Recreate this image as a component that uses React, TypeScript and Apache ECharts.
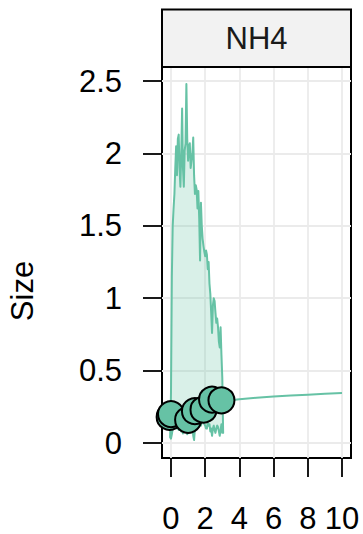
import React, { useEffect, useRef } from "react";
import * as echarts from "echarts";

const facetLabel = "NH4";
const yTitle = "Size";
const xTicks = [0, 2, 4, 6, 8, 10];
const yTicks = [0, 0.5, 1, 1.5, 2, 2.5];

const bandX = [
  -0.05, 0.0, 0.05, 0.1, 0.15, 0.2, 0.25, 0.3, 0.35, 0.4, 0.45, 0.5, 0.55, 0.6, 0.65, 0.7,
  0.75, 0.8, 0.85, 0.9, 0.95, 1.0, 1.05, 1.1, 1.15, 1.2, 1.25, 1.3, 1.35, 1.4, 1.45, 1.5,
  1.55, 1.6, 1.65, 1.7, 1.75, 1.8, 1.85, 1.9, 1.95, 2.0, 2.05, 2.1, 2.15, 2.2, 2.25, 2.3,
  2.35, 2.4, 2.45, 2.5, 2.55, 2.6, 2.65, 2.7, 2.75, 2.8, 2.85, 2.9, 2.95, 3.0, 3.05,
];
const bandUpper = [
  0.04, 0.35, 1.15, 1.5, 1.62, 1.72, 1.9, 2.05, 1.85, 2.1, 2.13, 1.9, 1.77, 2.0, 2.31, 1.9,
  1.77, 2.02, 2.07, 2.48, 2.1, 1.95, 2.05, 2.07, 1.9, 1.95, 2.0, 2.11, 1.85, 1.72, 1.78, 1.75,
  1.62, 1.74, 1.55, 1.26, 1.66, 1.5, 1.41, 1.36, 1.32, 1.29, 1.33, 1.3, 1.2, 1.25, 1.1, 1.03,
  0.9, 0.76, 0.95, 1.0, 0.98, 0.9, 0.83, 0.86, 0.8, 0.7, 0.66, 0.8, 0.61, 0.45, 0.07,
];
const bandLower = [
  0.04, 0.03, 0.06, 0.1, 0.1, 0.12, 0.11, 0.12, 0.1, 0.11, 0.09, 0.09, 0.1, 0.08, 0.1, 0.065,
  0.09, 0.11, 0.08, 0.1, 0.06, 0.08, 0.1, 0.07, 0.1, 0.09, 0.12, 0.05, 0.02, 0.1, 0.11, 0.11,
  0.13, 0.12, 0.15, 0.145, 0.12, 0.14, 0.15, 0.155, 0.13, 0.12, 0.1, 0.1, 0.14, 0.12, 0.13, 0.08,
  0.1, 0.05, 0.1, 0.12, 0.09, 0.07, 0.1, 0.12, 0.11, 0.08, 0.05, 0.09, 0.13, 0.07, 0.07,
];

const trendX = [2.95, 3.5, 4, 5, 6, 7, 8, 9, 10];
const trendY = [0.29, 0.296, 0.302, 0.312, 0.321, 0.328, 0.334, 0.34, 0.345];

const pointX = [-0.08, 0.0, 1.0, 1.4, 1.9, 2.4, 2.95];
const pointY = [0.18, 0.2, 0.16, 0.22, 0.23, 0.3, 0.295];

const GREEN = "#66C2A5";
const FONT = "'Liberation Sans', Arial, sans-serif";

export default function App() {
  const ref = useRef<HTMLDivElement>(null);
  useEffect(() => {
    if (!ref.current) return;
    const chart = echarts.init(ref.current, undefined, { renderer: "svg" });
    const option: any = {
      animation: false,
      backgroundColor: "#fff",
      grid: {
        left: 162,
        right: 12,
        top: 67,
        bottom: 76,
        show: true,
        borderColor: "#000",
        borderWidth: 2,
        backgroundColor: "#fff",
        containLabel: false,
        outerBoundsMode: "none",
      },
      xAxis: {
        type: "value",
        position: "bottom",
        min: -0.526,
        max: 10.526,
        axisLine: { show: false, onZero: false },
        axisTick: {
          show: true,
          inside: false,
          customValues: xTicks,
          length: 19,
          lineStyle: { color: "#000", width: 1.8 },
        },
        axisLabel: {
          customValues: xTicks,
          margin: 60,
          fontSize: 31,
          lineHeight: 27,
          verticalAlign: "middle",
          color: "#000",
          fontFamily: FONT,
        },
        splitLine: { show: true, lineStyle: { color: "#EBEBEB", width: 1.8 } },
      },
      yAxis: {
        type: "value",
        position: "left",
        min: -0.1036,
        max: 2.597,
        axisLine: { show: false, onZero: false },
        axisTick: {
          show: true,
          inside: false,
          customValues: yTicks,
          length: 19,
          lineStyle: { color: "#000", width: 1.8 },
        },
        axisLabel: {
          customValues: yTicks,
          margin: 40,
          fontSize: 31,
          color: "#000",
          fontFamily: FONT,
        },
        splitLine: { show: true, lineStyle: { color: "#EBEBEB", width: 1.8 } },
      },
      graphic: [
        {
          type: "rect",
          shape: { x: 162, y: 9.5, width: 189, height: 57.5 },
          style: { fill: "#F2F2F2", stroke: "#000", lineWidth: 2 },
          z: 10,
        },
        {
          type: "text",
          x: 256.5,
          y: 38.5,
          style: {
            text: facetLabel,
            fill: "#1A1A1A",
            font: `31px ${FONT}`,
            textAlign: "center",
            textVerticalAlign: "middle",
          },
          z: 11,
        },
        {
          type: "text",
          x: 22,
          y: 291,
          rotation: Math.PI / 2,
          style: {
            text: yTitle,
            fill: "#000",
            font: `31px ${FONT}`,
            textAlign: "center",
            textVerticalAlign: "middle",
          },
          z: 11,
        },
      ],
      series: [
        {
          type: "custom",
          silent: true,
          z: 2,
          data: [[0, 0]],
          renderItem: (_params: any, api: any) => {
            const pts: number[][] = [];
            for (let i = 0; i < bandX.length; i++) pts.push(api.coord([bandX[i], bandUpper[i]]));
            for (let i = bandX.length - 1; i >= 0; i--) pts.push(api.coord([bandX[i], bandLower[i]]));
            return {
              type: "polygon",
              shape: { points: pts },
              style: { fill: "rgba(102,194,165,0.25)", stroke: GREEN, lineWidth: 2, lineJoin: "round" },
            };
          },
        },
        {
          type: "line",
          z: 3,
          showSymbol: false,
          silent: true,
          data: trendX.map((x, i) => [x, trendY[i]]),
          lineStyle: { color: GREEN, width: 2 },
        },
        {
          type: "scatter",
          z: 4,
          clip: false,
          symbolSize: 26,
          data: pointX.map((x, i) => [x, pointY[i]]),
          itemStyle: { color: GREEN, borderColor: "#000", borderWidth: 2, opacity: 1 },
        },
      ],
    };
    chart.setOption(option);
    return () => chart.dispose();
  }, []);
  return (
    <div
      ref={ref}
      style={{ position: "absolute", left: 0, top: 0, width: 363, height: 534 }}
    />
  );
}
